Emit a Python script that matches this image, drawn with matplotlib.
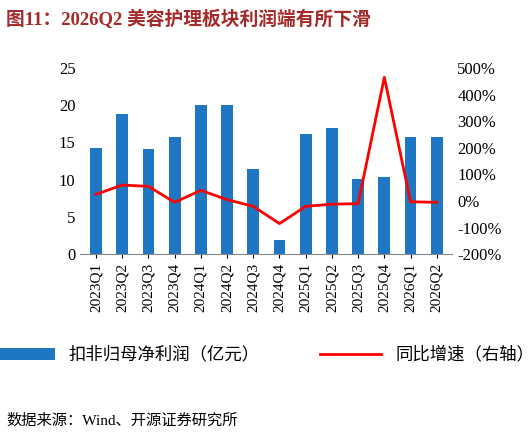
import matplotlib.pyplot as plt
import numpy as np

plt.rcParams['font.family'] = ['Liberation Serif', 'Noto Sans CJK SC']

quarters = ['2023Q1', '2023Q2', '2023Q3', '2023Q4', '2024Q1', '2024Q2', '2024Q3', '2024Q4',
            '2025Q1', '2025Q2', '2025Q3', '2025Q4', '2026Q1', '2026Q2']
profit = [14.3, 18.8, 14.1, 15.8, 20.1, 20.0, 11.4, 1.9, 16.1, 17.0, 10.1, 10.4, 15.8, 15.8]
yoy = [25, 60, 55, -5, 40, 5, -20, -85, -20, -12, -10, 465, -3, -5]

fig = plt.figure(figsize=(5.28, 4.36), dpi=100)
ax = fig.add_axes([0.152, 0.417, 0.705, 0.427])
x = np.arange(len(quarters))
bars = ax.bar(x, profit, width=0.45, color='#1F77C4', label='扣非归母净利润（亿元）')
ax.set_ylim(0, 25)
ax.set_yticks(range(0, 26, 5))
ax.set_xlim(-0.6, len(quarters) - 0.4)
ax.set_xticks(x)
ax.set_xticklabels(quarters, rotation=90, fontsize=11)
ax.tick_params(axis='y', labelsize=12, length=0)
ax.tick_params(axis='x', length=3)
for s in ['top', 'right', 'left']:
    ax.spines[s].set_visible(False)
ax.spines['bottom'].set_color('#888888')

ax2 = ax.twinx()
line, = ax2.plot(x, yoy, color='#FF0000', lw=2, label='同比增速（右轴）')
ax2.set_ylim(-200, 500)
ax2.set_yticks(range(-200, 501, 100))
ax2.set_yticklabels([f'{v}%' for v in range(-200, 501, 100)])
ax2.tick_params(axis='y', labelsize=12, length=0)
for s in ['top', 'right', 'left', 'bottom']:
    ax2.spines[s].set_visible(False)

fig.legend([bars, line], [bars.get_label(), line.get_label()], loc='center',
           bbox_to_anchor=(0.5, 0.185), ncol=2, frameon=False, fontsize=12.5,
           handlelength=3.5, columnspacing=3.5)

fig.text(0.012, 0.955, '图11：2026Q2 美容护理板块利润端有所下滑', fontsize=13.5,
         fontweight='bold', color='#A52A2A', va='center')
fig.text(0.012, 0.035, '数据来源：Wind、开源证券研究所', fontsize=11, va='center')

fig.savefig('out.png', dpi=100)
